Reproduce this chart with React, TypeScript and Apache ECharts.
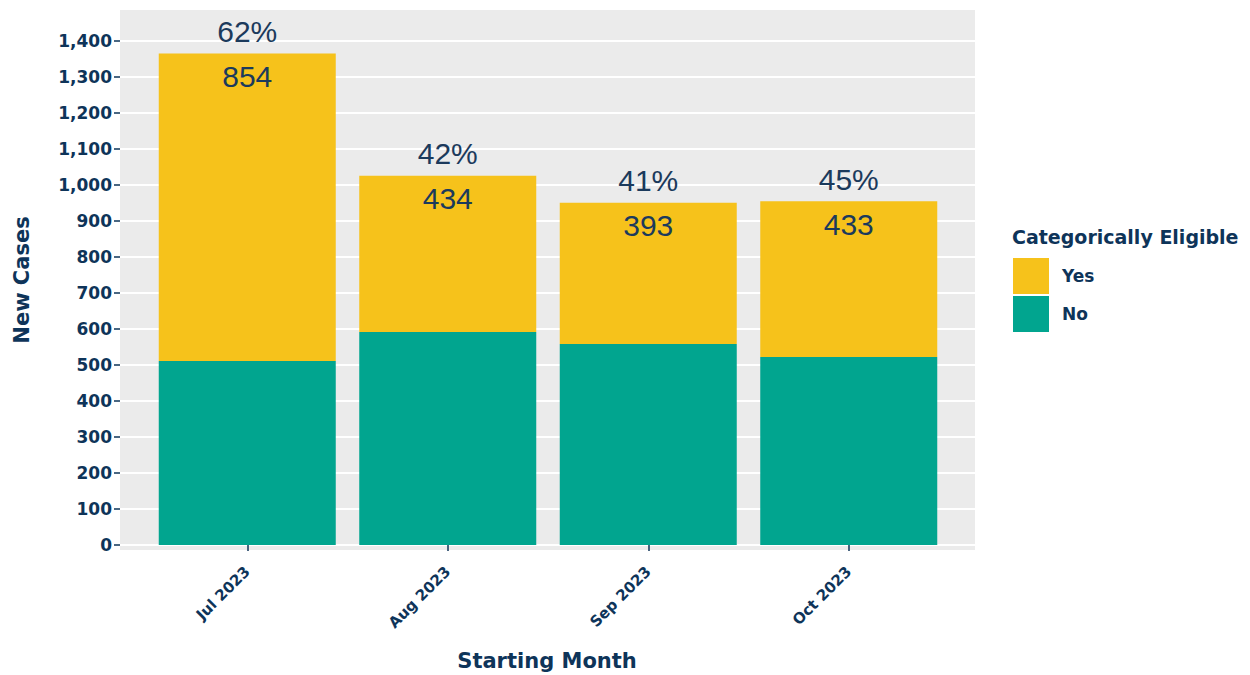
import React, { useEffect, useRef } from "react";
import * as echarts from "echarts";

const months = ["Jul 2023", "Aug 2023", "Sep 2023", "Oct 2023"];
const yesValues = [854, 434, 393, 433];
const noValues = [511, 592, 558, 522];
const pctLabels = ["62%", "42%", "41%", "45%"];
const yTicks = [0, 1400, 100];

const NAVY = "#0E3459";
const LABEL = "#1B3A5C";
const YELLOW = "#F6C21B";
const TEAL = "#01A58F";
const PANEL = "#EBEBEB";
const BOLD_FONT = "'DejaVu Sans', sans-serif";
const NUM_FONT = "'Liberation Sans', Arial, sans-serif";

export default function App() {
  const ref = useRef<HTMLDivElement>(null);

  useEffect(() => {
    if (!ref.current) return;
    const chart = echarts.init(ref.current, null, { renderer: "svg" });
    const totals = yesValues.map((v, i) => v + noValues[i]);

    chart.setOption({
      animation: false,
      backgroundColor: "#ffffff",
      grid: [
        { left: 120, top: 10, width: 855, height: 540, show: true, backgroundColor: PANEL, borderWidth: 0, containLabel: false },
        { left: 120, top: 41, width: 855, height: 504, containLabel: false },
        { left: 147, top: 41, width: 802, height: 504, containLabel: false },
      ],
      xAxis: [
        { gridIndex: 0, type: "value", show: false, min: 0, max: 1 },
        { gridIndex: 1, type: "value", show: false, min: 0, max: 1 },
        {
          gridIndex: 2,
          type: "category",
          data: months,
          offset: 5,
          axisLine: { show: false },
          axisTick: { show: true, alignWithLabel: true, length: 6, lineStyle: { color: NAVY, width: 1.5 } },
          axisLabel: {
            rotate: 45,
            margin: 19,
            color: NAVY,
            fontFamily: BOLD_FONT,
            fontWeight: "bold",
            fontSize: 15,
          },
          splitLine: { show: false },
        },
      ],
      yAxis: [
        { gridIndex: 0, type: "value", show: false, min: 0, max: 1 },
        {
          gridIndex: 1,
          type: "value",
          min: yTicks[0],
          max: yTicks[1],
          interval: yTicks[2],
          axisLine: { show: false },
          axisTick: { show: true, length: 6, lineStyle: { color: NAVY, width: 1.5 } },
          axisLabel: {
            color: NAVY,
            fontFamily: BOLD_FONT,
            fontWeight: "bold",
            fontSize: 17,
            margin: 8,
            formatter: (v: number) => v.toLocaleString("en-US"),
          },
          splitLine: { show: true, lineStyle: { color: "#ffffff", width: 2 } },
        },
        { gridIndex: 2, type: "value", show: false, min: yTicks[0], max: yTicks[1] },
      ],
      legend: {
        data: ["Yes", "No"],
        orient: "vertical",
        left: 1013,
        top: 258,
        itemWidth: 36,
        itemHeight: 36,
        itemGap: 2,
        padding: 0,
        icon: "rect",
        textStyle: {
          color: NAVY,
          fontFamily: BOLD_FONT,
          fontWeight: "bold",
          fontSize: 17,
          padding: [0, 0, 0, 8],
        },
      },
      graphic: [
        {
          type: "text",
          x: 22,
          y: 280,
          rotation: Math.PI / 2,
          style: {
            text: "New Cases",
            fill: NAVY,
            font: `bold 21px ${BOLD_FONT}`,
            textAlign: "center",
            textVerticalAlign: "middle",
          },
        },
        {
          type: "text",
          x: 547,
          y: 661,
          style: {
            text: "Starting Month",
            fill: NAVY,
            font: `bold 21px ${BOLD_FONT}`,
            textAlign: "center",
            textVerticalAlign: "middle",
          },
        },
        {
          type: "text",
          x: 1012,
          y: 237,
          style: {
            text: "Categorically Eligible",
            fill: NAVY,
            font: `bold 19px ${BOLD_FONT}`,
            textAlign: "left",
            textVerticalAlign: "middle",
          },
        },
      ],
      series: [
        {
          name: "No",
          type: "bar",
          xAxisIndex: 2,
          yAxisIndex: 2,
          stack: "total",
          barWidth: 177,
          data: noValues,
          itemStyle: { color: TEAL },
        },
        {
          name: "Yes",
          type: "bar",
          xAxisIndex: 2,
          yAxisIndex: 2,
          stack: "total",
          barWidth: 177,
          data: yesValues,
          itemStyle: { color: YELLOW },
          label: {
            show: true,
            position: "insideTop",
            distance: 8,
            color: LABEL,
            fontFamily: NUM_FONT,
            fontSize: 30,
          },
        },
        {
          name: "pct",
          type: "scatter",
          xAxisIndex: 2,
          yAxisIndex: 2,
          data: totals,
          symbolSize: 0,
          itemStyle: { color: LABEL, opacity: 1 },
          label: {
            show: true,
            position: "top",
            distance: 7,
            color: LABEL,
            fontFamily: NUM_FONT,
            fontSize: 30,
            formatter: (p: any) => pctLabels[p.dataIndex],
          },
          z: 5,
        },
      ],
    });

    return () => chart.dispose();
  }, []);

  return <div ref={ref} style={{ position: "fixed", left: 0, top: 0, width: 1250, height: 675 }} />;
}
